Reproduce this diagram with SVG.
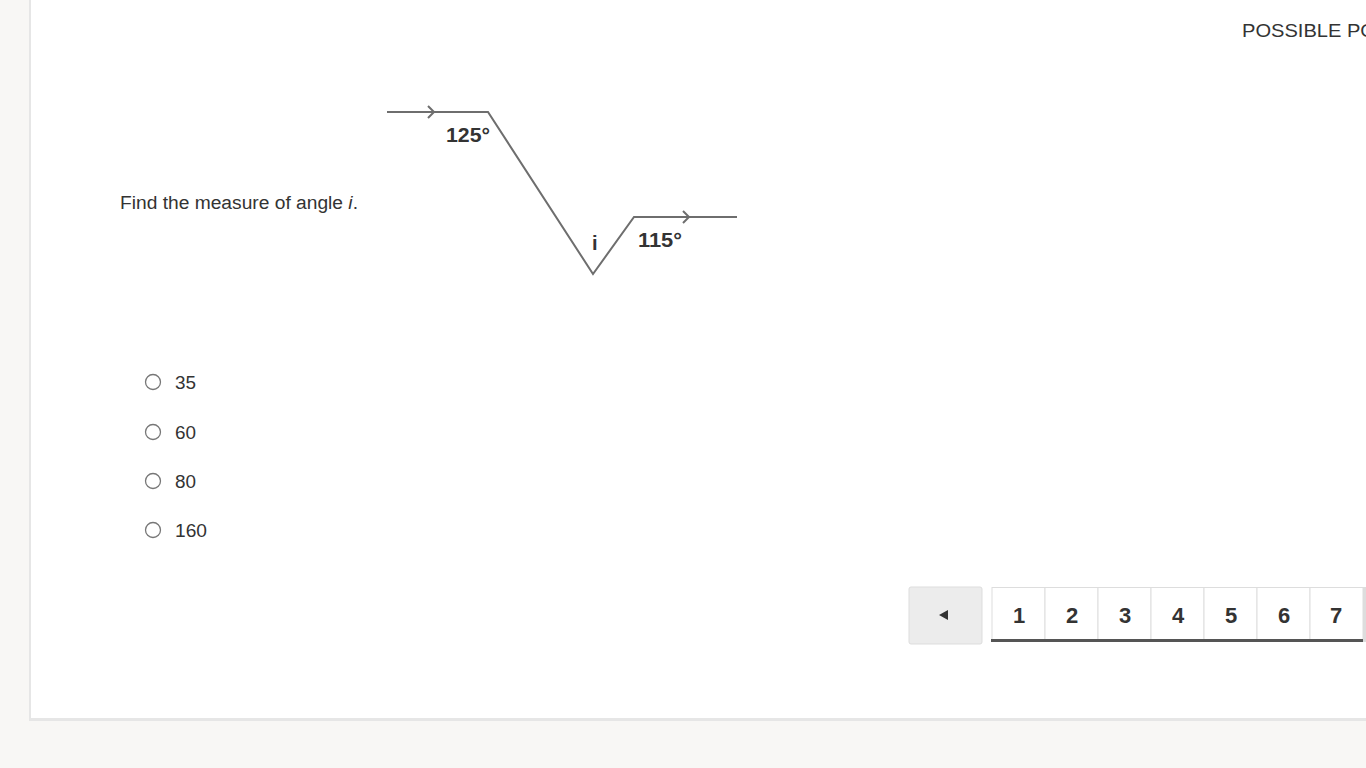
<svg xmlns="http://www.w3.org/2000/svg" width="1366" height="768" viewBox="0 0 1366 768">
<style>
.t{font-family:"Liberation Sans",Arial,sans-serif;fill:#333}
.fig{fill:none;stroke:#6e6e6e;stroke-width:2;stroke-linejoin:miter}
.lbl{font-family:"Liberation Sans",Arial,sans-serif;font-weight:bold;font-size:20px;fill:#333}
.opt{fill:#fff;stroke:#777;stroke-width:1.3}
.pg{fill:#fff;stroke:#ddd;stroke-width:1}
.pn{font-family:"Liberation Sans",Arial,sans-serif;font-weight:bold;font-size:22px;fill:#333;text-anchor:middle}
</style>
<rect width="1366" height="768" fill="#f8f7f5"/>
<rect x="29" y="0" width="1340" height="721" fill="#e6e6e6"/>
<rect x="31" y="0" width="1337" height="718" fill="#fff"/>
<text class="t" x="1242" y="37" font-size="18" textLength="134" lengthAdjust="spacingAndGlyphs">POSSIBLE PO</text>
<text class="t" x="120" y="209" font-size="18" textLength="238" lengthAdjust="spacingAndGlyphs">Find the measure of angle <tspan font-style="italic">i</tspan>.</text>
<g id="figure">
<polyline class="fig" points="387,112 488,112 593,274 634,217 737,217"/>
<polyline class="fig" points="428,106 434,112 428,118"/>
<polyline class="fig" points="683,211 689,217 683,223"/>
<text class="lbl" x="446" y="142" textLength="44" lengthAdjust="spacingAndGlyphs">125°</text>
<text class="lbl" x="638" y="247" textLength="44" lengthAdjust="spacingAndGlyphs">115°</text>
<text class="lbl" x="592" y="250">i</text>
</g>
<g id="options">
<circle class="opt" cx="153" cy="382" r="7.5"/>
<text class="t" x="175" y="389" font-size="18" textLength="21" lengthAdjust="spacingAndGlyphs">35</text>
<circle class="opt" cx="153" cy="432" r="7.5"/>
<text class="t" x="175" y="439" font-size="18" textLength="21" lengthAdjust="spacingAndGlyphs">60</text>
<circle class="opt" cx="153" cy="481" r="7.5"/>
<text class="t" x="175" y="488" font-size="18" textLength="21" lengthAdjust="spacingAndGlyphs">80</text>
<circle class="opt" cx="153" cy="530" r="7.5"/>
<text class="t" x="175" y="537" font-size="18" textLength="32" lengthAdjust="spacingAndGlyphs">160</text>
</g>
<g id="pagination">
<rect x="909" y="587" width="73" height="57" rx="2" fill="#ececec" stroke="#ddd"/>
<polygon points="939,615 948,610 948,620" fill="#333"/>
<rect class="pg" x="992" y="587.5" width="53" height="53"/>
<rect class="pg" x="1045" y="587.5" width="53" height="53"/>
<rect class="pg" x="1098" y="587.5" width="53" height="53"/>
<rect class="pg" x="1151" y="587.5" width="53" height="53"/>
<rect class="pg" x="1204" y="587.5" width="53" height="53"/>
<rect class="pg" x="1257" y="587.5" width="53" height="53"/>
<rect class="pg" x="1310" y="587.5" width="53" height="53"/>
<rect x="991" y="639" width="375" height="3" fill="#555"/>
<rect x="1363" y="587" width="3" height="55" fill="#ddd"/>
<text class="pn" x="1019" y="623">1</text>
<text class="pn" x="1072" y="623">2</text>
<text class="pn" x="1125" y="623">3</text>
<text class="pn" x="1178" y="623">4</text>
<text class="pn" x="1231" y="623">5</text>
<text class="pn" x="1284" y="623">6</text>
<text class="pn" x="1336" y="623">7</text>
</g>
</svg>
